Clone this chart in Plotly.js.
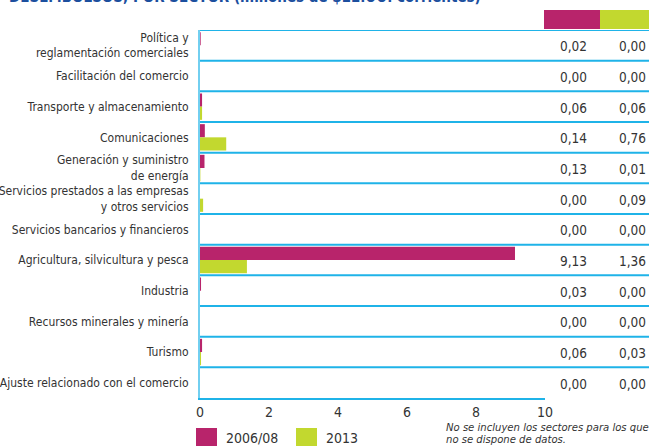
<!DOCTYPE html>
<html>
<head>
<meta charset="utf-8">
<script src="https://cdn.plot.ly/plotly-3.0.1.min.js"></script>
<style>html,body{margin:0;padding:0;background:#fff;}#chart{width:649px;height:446px;}</style>
</head>
<body>
<div id="chart"></div>
<script>
// ---- data ----
var categories = [
  "Política y<br>reglamentación comerciales",
  "Facilitación del comercio",
  "Transporte y almacenamiento",
  "Comunicaciones",
  "Generación y suministro<br>de energía",
  "Servicios prestados a las empresas<br>y otros servicios",
  "Servicios bancarios y financieros",
  "Agricultura, silvicultura y pesca",
  "Industria",
  "Recursos minerales y minería",
  "Turismo",
  "Ajuste relacionado con el comercio"
];
var seriesNames = ["2006/08", "2013"];
var values2006 = [0.02, 0.00, 0.06, 0.14, 0.13, 0.00, 0.00, 9.13, 0.03, 0.00, 0.06, 0.00];
var values2013 = [0.00, 0.00, 0.06, 0.76, 0.01, 0.09, 0.00, 1.36, 0.00, 0.00, 0.03, 0.00];
var xTicks = [0, 2, 4, 6, 8, 10];
var titleText = "DESEMBOLSOS, POR SECTOR (millones de $EE.UU. corrientes)";
var noteLines = ["No se incluyen los sectores para los que", "no se dispone de datos."];

// ---- style ----
var colors = ["#b8246b", "#c2d82f"];
var lineBlue = "#1fb3e8";
var FONT = "'DejaVu Sans Condensed', 'Liberation Sans Narrow', sans-serif";
var W = 649, H = 446, L = 200, R = 104, T = 30, B = 48;
var pw = W - L - R, ph = H - T - B;
function px(x) { return (x - L) / pw; }
function py(y) { return (H - B - y) / ph; }
function fmt(v) { return v.toFixed(2).replace(".", ","); }

var traces = [values2006, values2013].map(function (vals, k) {
  return {
    type: "bar", orientation: "h", name: seriesNames[k],
    x: vals, y: categories,
    marker: { color: colors[k], line: { width: 0 } },
    hoverinfo: "x+y", showlegend: false
  };
});

var shapes = [];
var annotations = [];
var xRight = px(W);

// row separators (top + between rows), extending through value columns
for (var i = 0; i < categories.length; i++) {
  shapes.push({ type: "line", xref: "paper", yref: "y", x0: 0, x1: xRight, y0: i - 0.5, y1: i - 0.5,
    line: { color: lineBlue, width: 2 } });
}
// header colour boxes above value columns
shapes.push({ type: "rect", xref: "paper", yref: "paper", x0: px(544), x1: px(600), y0: py(29), y1: py(10),
  fillcolor: colors[0], line: { width: 0 } });
shapes.push({ type: "rect", xref: "paper", yref: "paper", x0: px(600), x1: px(649), y0: py(29), y1: py(10),
  fillcolor: colors[1], line: { width: 0 } });

// value columns
var valFont = { family: FONT, size: 13.5, color: "#333333" };
categories.forEach(function (c, i) {
  annotations.push({ xref: "paper", yref: "y", x: px(589), y: i, yshift: -1, text: fmt(values2006[i]),
    xanchor: "right", yanchor: "middle", showarrow: false, font: valFont });
  annotations.push({ xref: "paper", yref: "y", x: px(648), y: i, yshift: -1, text: fmt(values2013[i]),
    xanchor: "right", yanchor: "middle", showarrow: false, font: valFont });
});

// bottom legend
var legX = [196, 296];
seriesNames.forEach(function (n, k) {
  shapes.push({ type: "rect", xref: "paper", yref: "paper", x0: px(legX[k]), x1: px(legX[k] + 21),
    y0: py(447), y1: py(428), fillcolor: colors[k], line: { width: 0 } });
  annotations.push({ xref: "paper", yref: "paper", x: px(legX[k] + 28), y: py(438), text: n,
    xanchor: "left", yanchor: "middle", showarrow: false,
    font: { family: FONT, size: 14, color: "#333333" } });
});

// note
noteLines.forEach(function (t, k) {
  annotations.push({ xref: "paper", yref: "paper", x: px(444), y: py(427.5 + 12 * k), text: t,
    xanchor: "left", yanchor: "middle", showarrow: false,
    font: { family: FONT, size: 11.2, color: "#333333", style: "italic" } });
});

// title (cropped at the top edge)
annotations.push({ xref: "paper", yref: "paper", x: px(7), y: py(8), text: "<b>" + titleText + "</b>",
  xanchor: "left", yanchor: "bottom", showarrow: false,
  font: { family: FONT, size: 15, color: "#1c4f9e" } });

var layout = {
  width: W, height: H,
  margin: { l: L, r: R, t: T, b: B, pad: 0 },
  paper_bgcolor: "#fff", plot_bgcolor: "#fff",
  barmode: "group", bargap: 0.14, bargroupgap: 0,
  showlegend: false,
  font: { family: FONT, size: 12, color: "#333333" },
  xaxis: {
    range: [0, 10], tickvals: xTicks, ticktext: xTicks.map(String),
    showgrid: false, zeroline: false,
    showline: true, linecolor: lineBlue, linewidth: 2,
    ticks: "", 
    tickfont: { family: FONT, size: 14, color: "#333333" },
    fixedrange: true
  },
  yaxis: {
    type: "category", categoryorder: "array", categoryarray: categories,
    range: [categories.length - 0.5, -0.5],
    showgrid: false, zeroline: false,
    showline: true, linecolor: "#72cff0", linewidth: 2,
    ticks: "outside", ticklen: 7, tickcolor: "rgba(0,0,0,0)",
    tickfont: { family: FONT, size: 12, color: "#333333" },
    fixedrange: true
  },
  shapes: shapes,
  annotations: annotations
};

Plotly.newPlot("chart", traces, layout, { displayModeBar: false, staticPlot: true });
</script>
</body>
</html>
